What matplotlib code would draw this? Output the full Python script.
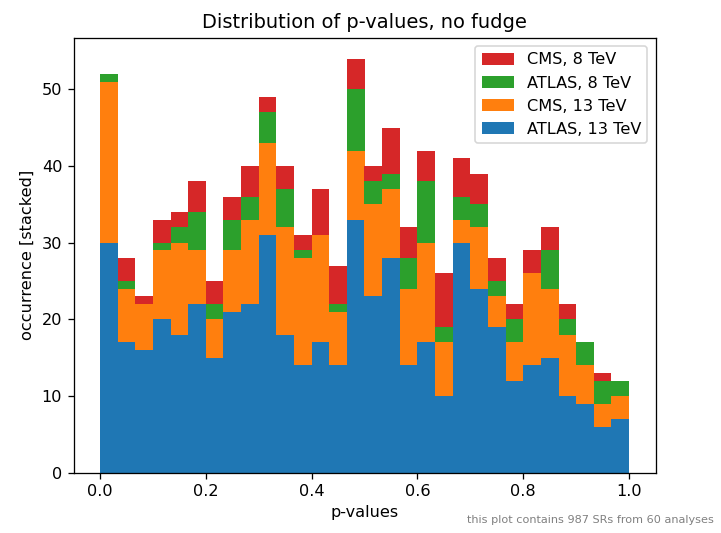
import numpy as np
import matplotlib
matplotlib.use("Agg")
import matplotlib.pyplot as plt

# counts per p-value bin (30 bins from 0 to 1), per experiment
atlas13 = [30, 17, 16, 20, 18, 22, 15, 21, 22, 31, 18, 14, 17, 14, 33,
           23, 28, 14, 17, 10, 30, 24, 19, 12, 14, 15, 10, 9, 6, 7]
cms13 = [21, 7, 6, 9, 12, 7, 5, 8, 11, 12, 14, 14, 14, 7, 9,
         12, 9, 10, 13, 7, 3, 8, 4, 5, 12, 9, 8, 5, 3, 3]
atlas8 = [1, 1, 0, 1, 2, 5, 2, 4, 3, 4, 5, 1, 0, 1, 8,
          3, 2, 4, 8, 2, 3, 3, 2, 3, 0, 5, 2, 3, 3, 2]
cms8 = [0, 3, 1, 3, 2, 4, 3, 3, 4, 2, 3, 2, 6, 5, 4,
        2, 6, 4, 4, 7, 5, 4, 3, 2, 3, 3, 2, 0, 1, 0]
labels = ["ATLAS, 13 TeV", "CMS, 13 TeV", "ATLAS, 8 TeV", "CMS, 8 TeV"]

nbins = len(atlas13)
edges = np.linspace(0, 1, nbins + 1)
centers = 0.5 * (edges[:-1] + edges[1:])

DPI = 116
fig = plt.figure(figsize=(721 / DPI, 533 / DPI), dpi=DPI)
# axes box in pixels: left 73.5, right 655.5, top 38, bottom 472.7
ax = fig.add_axes([73.5 / 721, 60.3 / 533, 582 / 721, 434.7 / 533])

ax.hist([centers] * 4, bins=edges, weights=[atlas13, cms13, atlas8, cms8],
        stacked=True, label=labels)

ax.set_title("Distribution of p-values, no fudge")
ax.set_xlabel("p-values")
ax.set_ylabel("occurrence [stacked]")

h, l = ax.get_legend_handles_labels()
ax.legend(h[::-1], l[::-1], loc="upper right")

fig.text(714 / 721, 8 / 533, "this plot contains 987 SRs from 60 analyses",
         ha="right", va="bottom", fontsize=7, color="gray")

fig.savefig("out.png", dpi=DPI)
